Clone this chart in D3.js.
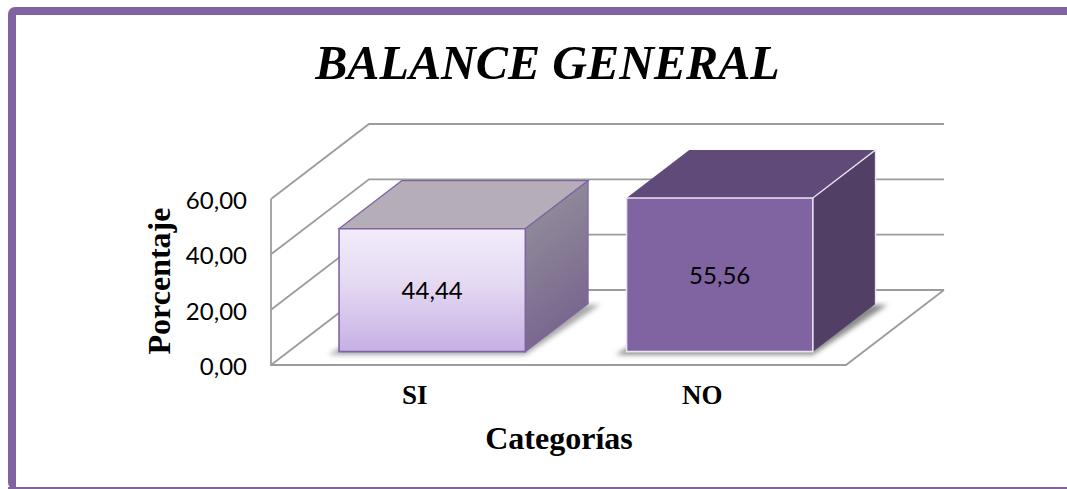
<!DOCTYPE html>
<html>
<head>
<meta charset="utf-8">
<script src="https://cdn.jsdelivr.net/npm/d3@7"></script>
<style>
html, body { margin: 0; padding: 0; background: #fff; overflow: hidden; }
</style>
</head>
<body>
<svg id="svg0" width="1067" height="489"></svg>
<script>
var categories = ['SI', 'NO'];
var values = [44.44, 55.56];
var y_ticks = [0, 20, 40, 60];
var title_text = 'BALANCE GENERAL';
var x_title = 'Categorías';
var y_title = 'Porcentaje';

var svg0 = d3.select('#svg0');
var serif = '"Liberation Serif", serif';
var sans = 'Lato, sans-serif';
var grid_color = '#9c9c9c';

// spanish number format, comma for decimals
var es_format = d3.formatLocale({decimal: ',', thousands: '.', grouping: [3], currency: ['', '']}).format('.2f');

var x_scale = d3.scaleBand().domain(categories).range([271, 846]).paddingInner(0.352).paddingOuter(0.176);
var y_scale = d3.scaleLinear().domain([0, 60]).range([365, 199]);
// third axis, 0 is the front of the floor and 1 the back wall
var z_scale = d3.scaleLinear().domain([0, 1]).range([0, 1]);
var depth_x = 98, depth_y = -75;
var bar_front = 0.178, bar_back = 0.818;

function project(x, y, z) {
	return [x + depth_x*z_scale(z), y + depth_y*z_scale(z)];
}
function poly(points) {
	return d3.line()(points) + 'Z';
}

var defs = svg0.append('defs');
var light_front = defs.append('linearGradient').attr('id', 'light_front').attr('x1', 0).attr('y1', 0).attr('x2', 0).attr('y2', 1);
light_front.append('stop').attr('offset', '0%').attr('stop-color', '#f2ecfb');
light_front.append('stop').attr('offset', '45%').attr('stop-color', '#e4d9f2');
light_front.append('stop').attr('offset', '100%').attr('stop-color', '#c6b0e4');
var light_side = defs.append('linearGradient').attr('id', 'light_side').attr('x1', 0).attr('y1', 0).attr('x2', 0.3).attr('y2', 1);
light_side.append('stop').attr('offset', '0%').attr('stop-color', '#98949e');
light_side.append('stop').attr('offset', '100%').attr('stop-color', '#77658e');
defs.append('filter').attr('id', 'soft').attr('x', '-20%').attr('y', '-30%').attr('width', '140%').attr('height', '160%')
	.append('feGaussianBlur').attr('stdDeviation', 2.6);

var bar_styles = {
	'SI': {front: 'url(#light_front)', top: '#b5aeb9', side: 'url(#light_side)', stroke: '#8064a2', shadow: '#a8a8a8'},
	'NO': {front: '#8064a2', top: '#604a7a', side: '#523f66', stroke: '#e9e4ef', shadow: '#8a8a8a'}
};

// outer frame, runs off the right side
svg0.append('rect').attr('x', 12).attr('y', 11).attr('width', 1075).attr('height', 474.5).attr('rx', 3)
	.attr('fill', 'none').attr('stroke', '#8064a2').attr('stroke-width', 8);
svg0.append('rect').attr('x', 16).attr('y', 15).attr('width', 1051).attr('height', 472).attr('fill', '#fff');
svg0.append('rect').attr('x', 8).attr('y', 487).attr('width', 1059).attr('height', 2).attr('fill', '#8064a2');

svg0.append('text').attr('x', 547.5).attr('y', 79).attr('text-anchor', 'middle')
	.attr('font-family', serif).attr('font-weight', 'bold').attr('font-style', 'italic').attr('font-size', 48.2)
	.attr('fill', '#000').text(title_text);

// walls and floor
var x0 = x_scale.range()[0], x1 = x_scale.range()[1];
var grid = svg0.append('g').attr('fill', 'none').attr('stroke', grid_color).attr('stroke-width', 1.8);
grid.selectAll('.wall').data(y_ticks).enter().append('path').attr('class', 'wall')
	.attr('d', d => d3.line()([project(x0, y_scale(d), 0), project(x0, y_scale(d), 1), project(x1, y_scale(d), 1)]));
grid.append('path').attr('d', d3.line()([project(x0, y_scale(60), 0), project(x0, y_scale(0), 0), project(x1, y_scale(0), 0), project(x1, y_scale(0), 1)]));

// bars
var bars = svg0.selectAll('.bar').data(categories).enter().append('g').attr('class', 'bar');

bars.append('path')
	.attr('d', d => {
		var a = x_scale(d), b = a + x_scale.bandwidth(), base = y_scale(0);
		return poly([project(a - 11, base + 3, bar_front), project(b, base + 3, bar_front), project(b + 12, base + 1, bar_back), project(a + 12, base + 1, bar_back)]);
	})
	.attr('fill', d => bar_styles[d].shadow).attr('filter', 'url(#soft)');

bars.each(function(d, i) {
	var g = d3.select(this), st = bar_styles[d];
	var a = x_scale(d), b = a + x_scale.bandwidth();
	var top = y_scale(values[i]), base = y_scale(0);
	g.append('path').attr('class', 'top')
		.attr('d', poly([project(a, top, bar_front), project(b, top, bar_front), project(b, top, bar_back), project(a, top, bar_back)]))
		.attr('fill', st.top).attr('stroke', d == 'SI' ? st.stroke : 'none').attr('stroke-width', 1.2);
	g.append('path').attr('class', 'side')
		.attr('d', poly([project(b, top, bar_front), project(b, top, bar_back), project(b, base, bar_back), project(b, base, bar_front)]))
		.attr('fill', st.side).attr('stroke', d == 'SI' ? st.stroke : 'none').attr('stroke-width', 1.2);
	g.append('path').attr('class', 'front')
		.attr('d', poly([project(a, top, bar_front), project(b, top, bar_front), project(b, base, bar_front), project(a, base, bar_front)]))
		.attr('fill', st.front).attr('stroke', st.stroke).attr('stroke-width', 1.6);
	if (d == 'NO') {
		// white edge going back from the front corner
		g.append('path').attr('d', d3.line()([project(b, top, bar_front), project(b, top, bar_back), project(b, base, bar_back)]))
			.attr('fill', 'none').attr('stroke', st.stroke).attr('stroke-width', 1.4);
	}
	var label_pos = project((a + b)/2, (top + base)/2, bar_front);
	g.append('text')
		.attr('x', label_pos[0]).attr('y', label_pos[1] + 9)
		.attr('text-anchor', 'middle').attr('font-family', sans).attr('font-size', 24).attr('fill', '#000')
		.text(es_format(values[i]));
});

// y axis labels
var y_axis = d3.axisLeft(y_scale).tickValues(y_ticks).tickFormat(es_format).tickSize(0).tickPadding(24);
svg0.append('g').attr('transform', 'translate(271,0)').call(y_axis)
	.call(g => g.select('.domain').remove())
	.call(g => g.selectAll('text').attr('font-family', sans).attr('font-size', 24).attr('fill', '#000').attr('dy', '0.39em'));

// x axis labels
svg0.selectAll('.cat').data(categories).enter().append('text').attr('class', 'cat')
	.attr('x', d => x_scale(d) + x_scale.bandwidth()/2)
	.attr('y', 404).attr('text-anchor', 'middle')
	.attr('font-family', serif).attr('font-weight', 'bold').attr('font-size', 27).attr('fill', '#000')
	.text(d => d);

svg0.append('text').attr('x', 559).attr('y', 449).attr('text-anchor', 'middle')
	.attr('font-family', serif).attr('font-weight', 'bold').attr('font-size', 32).attr('fill', '#000').text(x_title);

svg0.append('text').attr('transform', 'translate(170,281) rotate(-90)').attr('text-anchor', 'middle')
	.attr('font-family', serif).attr('font-weight', 'bold').attr('font-size', 32).attr('fill', '#000').text(y_title);
</script>
</body>
</html>
